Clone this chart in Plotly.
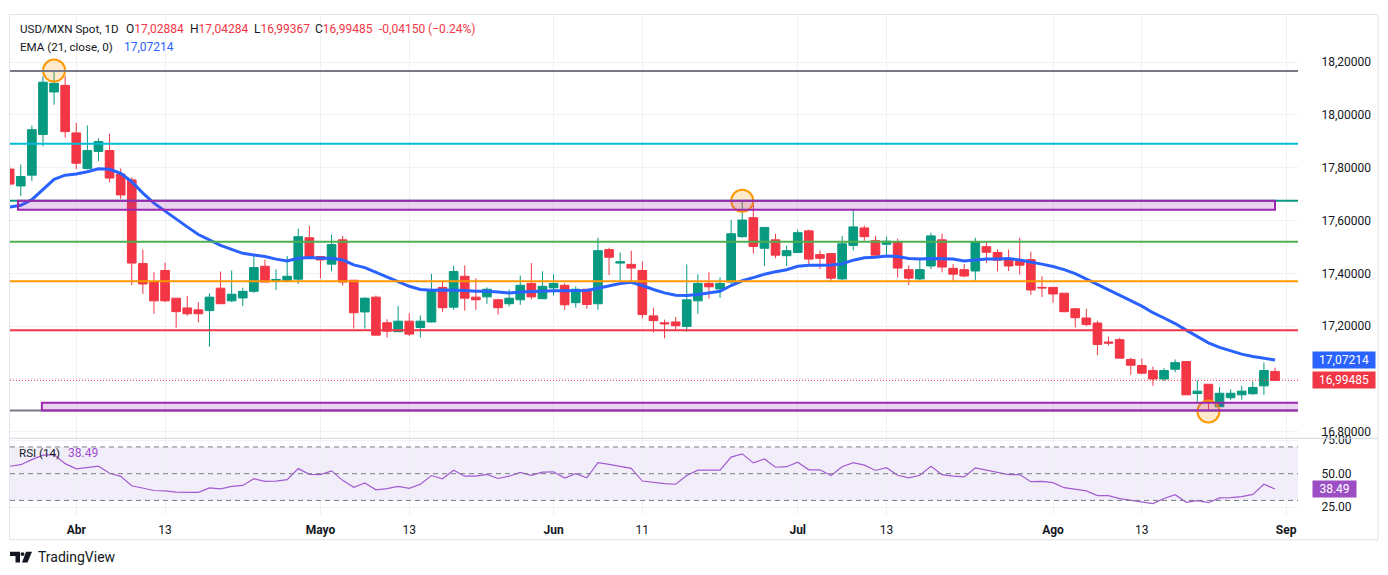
import plotly.graph_objects as go

# ---- data (bar index 0 = first visible daily bar) ----
opens = [17.795, 17.731, 17.772, 17.926, 18.087, 18.112, 17.932, 17.797, 17.862, 17.865,
         17.776, 17.754, 17.437, 17.369, 17.411, 17.306, 17.269, 17.262, 17.259, 17.344,
         17.296, 17.307, 17.332, 17.427, 17.373, 17.373, 17.378, 17.535, 17.464, 17.435,
         17.527, 17.374, 17.254, 17.310, 17.213, 17.179, 17.219, 17.195, 17.216, 17.347,
         17.272, 17.389, 17.310, 17.311, 17.300, 17.285, 17.300, 17.362, 17.304, 17.345,
         17.355, 17.289, 17.340, 17.285, 17.490, 17.439, 17.434, 17.411, 17.239, 17.213,
         17.216, 17.199, 17.296, 17.362, 17.341, 17.367, 17.539, 17.611, 17.495, 17.527,
         17.467, 17.479, 17.561, 17.471, 17.475, 17.379, 17.506, 17.572, 17.524, 17.510,
         17.520, 17.414, 17.379, 17.428, 17.527, 17.419, 17.414, 17.409, 17.501, 17.479,
         17.454, 17.446, 17.452, 17.347, 17.347, 17.325, 17.266, 17.231, 17.212, 17.140,
         17.149, 17.074, 17.051, 17.032, 17.000, 17.037, 17.066, 16.945, 16.980, 16.895,
         16.929, 16.940, 16.944, 16.974, 17.02884]
highs = [17.810, 17.812, 17.960, 18.147, 18.164, 18.147, 17.970, 17.960, 17.912, 17.929,
         17.797, 17.764, 17.490, 17.404, 17.441, 17.306, 17.314, 17.291, 17.325, 17.407,
         17.411, 17.346, 17.466, 17.452, 17.415, 17.466, 17.569, 17.580, 17.464, 17.546,
         17.542, 17.374, 17.310, 17.316, 17.226, 17.276, 17.249, 17.241, 17.398, 17.368,
         17.429, 17.430, 17.381, 17.347, 17.304, 17.339, 17.392, 17.439, 17.408, 17.396,
         17.362, 17.351, 17.340, 17.535, 17.497, 17.479, 17.486, 17.445, 17.270, 17.225,
         17.235, 17.434, 17.396, 17.404, 17.385, 17.602, 17.672, 17.660, 17.574, 17.550,
         17.505, 17.566, 17.565, 17.486, 17.475, 17.542, 17.644, 17.581, 17.542, 17.539,
         17.531, 17.431, 17.460, 17.554, 17.550, 17.435, 17.435, 17.535, 17.519, 17.491,
         17.490, 17.535, 17.482, 17.389, 17.347, 17.325, 17.269, 17.266, 17.220, 17.160,
         17.156, 17.081, 17.077, 17.047, 17.041, 17.074, 17.066, 16.995, 16.980, 16.969,
         16.961, 16.974, 16.991, 17.062, 17.04284]
lows = [17.730, 17.693, 17.750, 17.881, 18.039, 17.914, 17.795, 17.794, 17.825, 17.745,
        17.682, 17.356, 17.322, 17.247, 17.291, 17.194, 17.239, 17.214, 17.122, 17.285,
        17.291, 17.276, 17.326, 17.367, 17.337, 17.366, 17.360, 17.460, 17.381, 17.407,
        17.354, 17.191, 17.191, 17.166, 17.157, 17.179, 17.163, 17.157, 17.214, 17.254,
        17.262, 17.259, 17.262, 17.285, 17.244, 17.275, 17.281, 17.301, 17.304, 17.316,
        17.262, 17.270, 17.266, 17.262, 17.394, 17.370, 17.371, 17.229, 17.176, 17.154,
        17.184, 17.180, 17.247, 17.304, 17.307, 17.360, 17.535, 17.475, 17.428, 17.457,
        17.428, 17.479, 17.435, 17.416, 17.371, 17.375, 17.487, 17.524, 17.459, 17.469,
        17.385, 17.356, 17.370, 17.416, 17.404, 17.372, 17.385, 17.372, 17.439, 17.408,
        17.409, 17.396, 17.319, 17.311, 17.289, 17.252, 17.195, 17.200, 17.090, 17.127,
        17.079, 17.016, 17.019, 16.974, 16.992, 17.026, 16.940, 16.914, 16.884, 16.895,
        16.920, 16.921, 16.940, 16.940, 16.99367]
closes = [17.738, 17.767, 17.944, 18.124, 18.120, 17.937, 17.817, 17.865, 17.899, 17.761,
          17.697, 17.439, 17.360, 17.296, 17.296, 17.255, 17.247, 17.247, 17.310, 17.285,
          17.321, 17.332, 17.422, 17.367, 17.377, 17.389, 17.539, 17.460, 17.451, 17.509,
          17.367, 17.251, 17.306, 17.166, 17.181, 17.219, 17.170, 17.219, 17.337, 17.270,
          17.407, 17.306, 17.300, 17.340, 17.270, 17.306, 17.355, 17.311, 17.351, 17.362,
          17.281, 17.340, 17.282, 17.486, 17.461, 17.444, 17.420, 17.244, 17.221, 17.209,
          17.202, 17.300, 17.362, 17.349, 17.362, 17.550, 17.602, 17.502, 17.574, 17.469,
          17.486, 17.554, 17.454, 17.457, 17.382, 17.512, 17.576, 17.539, 17.469, 17.522,
          17.420, 17.382, 17.414, 17.542, 17.424, 17.397, 17.390, 17.520, 17.480, 17.450,
          17.428, 17.431, 17.337, 17.345, 17.322, 17.255, 17.232, 17.206, 17.131, 17.136,
          17.079, 17.052, 17.022, 17.000, 17.032, 17.062, 16.940, 16.954, 16.914, 16.946,
          16.946, 16.954, 16.968, 17.032, 16.99485]
ema21 = [17.651, 17.658, 17.679, 17.716, 17.756, 17.772, 17.776, 17.785, 17.796, 17.794,
         17.779, 17.747, 17.704, 17.666, 17.635, 17.604, 17.576, 17.547, 17.526, 17.506,
         17.491, 17.476, 17.470, 17.464, 17.454, 17.447, 17.457, 17.460, 17.457, 17.457,
         17.451, 17.432, 17.422, 17.404, 17.385, 17.369, 17.351, 17.339, 17.336, 17.337,
         17.337, 17.335, 17.332, 17.332, 17.329, 17.326, 17.329, 17.331, 17.334, 17.334,
         17.334, 17.335, 17.335, 17.344, 17.354, 17.362, 17.366, 17.354, 17.339, 17.326,
         17.317, 17.316, 17.320, 17.326, 17.332, 17.354, 17.372, 17.384, 17.397, 17.406,
         17.414, 17.427, 17.431, 17.431, 17.432, 17.436, 17.450, 17.459, 17.461, 17.466,
         17.464, 17.456, 17.454, 17.456, 17.456, 17.454, 17.447, 17.451, 17.454, 17.454,
         17.456, 17.451, 17.444, 17.435, 17.426, 17.414, 17.399, 17.379, 17.360, 17.339,
         17.319, 17.297, 17.276, 17.251, 17.231, 17.210, 17.185, 17.160, 17.137, 17.120,
         17.106, 17.094, 17.085, 17.079, 17.07214]
rsi14 = [55.5, 56.7, 60.5, 63.8, 64.3, 57.5, 53.6, 54.4, 55.6, 50.3,
         48.0, 41.0, 39.0, 37.4, 37.1, 36.2, 36.0, 36.0, 39.3, 38.6,
         40.5, 41.2, 46.2, 44.3, 44.5, 45.5, 53.8, 49.5, 49.3, 52.1,
         45.0, 39.8, 43.1, 37.9, 38.8, 40.5, 39.0, 42.1, 48.6, 46.2,
         52.6, 48.1, 48.1, 49.5, 46.4, 48.1, 51.0, 48.8, 51.2, 51.4,
         46.7, 50.0, 46.9, 58.3, 56.9, 55.7, 54.0, 44.5, 43.3, 42.6,
         42.1, 48.6, 52.6, 52.4, 52.6, 62.4, 64.8, 58.1, 61.0, 54.8,
         55.2, 58.6, 52.9, 52.9, 48.6, 55.2, 58.3, 56.4, 52.4, 54.5,
         48.8, 46.9, 48.8, 55.5, 49.3, 48.1, 47.6, 54.3, 52.6, 51.0,
         49.3, 49.3, 44.0, 44.3, 43.3, 39.5, 38.3, 37.1, 33.6, 33.6,
         31.4, 30.2, 29.0, 27.6, 31.4, 34.3, 28.6, 29.8, 28.3, 31.9,
         32.1, 32.9, 34.5, 42.1, 38.49]

tick_pos = [6, 14, 28, 36, 49, 57, 71, 79, 94, 102, 115]
tick_labels = ["<b>Abr</b>", "13", "<b>Mayo</b>", "13", "<b>Jun</b>", "11",
               "<b>Jul</b>", "13", "<b>Ago</b>", "13", "<b>Sep</b>"]
price_ticks = [16.8, 17.0, 17.2, 17.4, 17.6, 17.8, 18.0, 18.2]
rsi_ticks = [25, 50, 75]
rsi_levels = [70, 50, 30]

level_prices = [18.166, 17.891, 17.675, 17.520, 17.370, 17.185, 16.881]
level_colors = ["#787B86", "#00BCD4", "#089981", "#4CAF50", "#FF9800", "#F23645", "#787B86"]

zone_x0 = [0.75, 2.9]
zone_x1 = [114.0, 116.5]
zone_y0 = [17.641, 16.881]
zone_y1 = [17.675, 16.910]

circle_x = [4, 66, 108]
circle_y = [18.168, 17.675, 16.877]

header_change = "-0,04150 (\u22120.24%)"

UP = "#089981"
DOWN = "#F23645"
FONT = "Roboto"


def fmt(v):
    return f"{v:.5f}".replace(".", ",")


def px(x):
    return (x - 10) / 1288


def py(y):
    return (515 - y) / 505


bars = list(range(len(closes)))

fig = go.Figure()

fig.add_trace(go.Candlestick(
    x=bars, open=opens, high=highs, low=lows, close=closes,
    increasing=dict(line=dict(color=UP, width=1), fillcolor=UP),
    decreasing=dict(line=dict(color=DOWN, width=1), fillcolor=DOWN),
    xaxis="x", yaxis="y", showlegend=False, hoverinfo="skip"))

fig.add_trace(go.Scatter(x=bars, y=ema21, mode="lines",
                         line=dict(color="#2962FF", width=3),
                         xaxis="x", yaxis="y", showlegend=False, hoverinfo="skip"))

fig.add_trace(go.Scatter(x=bars, y=rsi14, mode="lines",
                         line=dict(color="#A35BD0", width=1.2),
                         xaxis="x2", yaxis="y2", showlegend=False, hoverinfo="skip"))

shapes = []
# horizontal levels
for lvl, col in zip(level_prices, level_colors):
    shapes.append(dict(type="line", xref="x domain", yref="y", x0=0, x1=1, y0=lvl, y1=lvl,
                       line=dict(color=col, width=2), layer="above"))
# zones
for a, b, c, d in zip(zone_x0, zone_x1, zone_y0, zone_y1):
    shapes.append(dict(type="rect", xref="x", yref="y", x0=a, x1=b, y0=c, y1=d,
                       fillcolor="rgba(156,39,176,0.2)", line=dict(color="#9C27B0", width=2),
                       layer="above"))
# last price dotted line
shapes.append(dict(type="line", xref="x domain", yref="y", x0=0, x1=1,
                   y0=closes[-1], y1=closes[-1],
                   line=dict(color=DOWN, width=1, dash="1px,2px"), layer="above"))
# RSI band and levels
shapes.append(dict(type="rect", xref="x2 domain", yref="y2", x0=0, x1=1, y0=30, y1=70,
                   fillcolor="rgba(126,87,194,0.1)", line=dict(width=0), layer="below"))
for lvl in rsi_levels:
    shapes.append(dict(type="line", xref="x2 domain", yref="y2", x0=0, x1=1, y0=lvl, y1=lvl,
                       line=dict(color="#787B86", width=1, dash="5px,4px"), layer="above"))
# pane separator and frame
shapes.append(dict(type="line", xref="paper", yref="paper", x0=px(10), x1=px(1378),
                   y0=py(437.5), y1=py(437.5), line=dict(color="#d1d4dc", width=1)))
shapes.append(dict(type="rect", xref="paper", yref="paper", x0=px(9.5), x1=px(1378),
                   y0=py(540), y1=py(9.5), line=dict(color="#e0e3eb", width=1)))
# TradingView mark
shapes.append(dict(type="path", xref="paper", yref="paper",
                   path=f"M {px(10)},{py(552)} L {px(20)},{py(552)} L {px(20)},{py(563)} "
                        f"L {px(15.5)},{py(563)} L {px(15.5)},{py(556.5)} L {px(10)},{py(556.5)} Z",
                   fillcolor="#131722", line=dict(width=0)))
shapes.append(dict(type="circle", xref="paper", yref="paper", x0=px(20.5), x1=px(24.5),
                   y0=py(556.5), y1=py(552.5), fillcolor="#131722", line=dict(width=0)))
shapes.append(dict(type="path", xref="paper", yref="paper",
                   path=f"M {px(26)},{py(552)} L {px(32)},{py(552)} L {px(27.5)},{py(563)} "
                        f"L {px(22)},{py(563)} Z",
                   fillcolor="#131722", line=dict(width=0)))

fig.add_trace(go.Scatter(x=circle_x, y=circle_y, mode="markers",
                         marker=dict(size=22, color="rgba(255,152,0,0.2)",
                                     line=dict(color="#FF9800", width=2)),
                         xaxis="x", yaxis="y", showlegend=False, hoverinfo="skip"))

ann = []


def text(t, x, y, size=12, color="#131722"):
    ann.append(dict(text=t, xref="paper", yref="paper", x=px(x), y=py(y),
                    xanchor="left", yanchor="middle", showarrow=False,
                    font=dict(family=FONT, size=size, color=color)))


def red(v):
    return f"<span style='color:{DOWN}'>{v}</span>"


text("USD/MXN Spot, 1D", 18, 24, size=11.6)
text("O" + red(fmt(opens[-1])), 124, 24)
text("H" + red(fmt(highs[-1])), 188, 24)
text("L" + red(fmt(lows[-1])), 252, 24)
text("C" + red(fmt(closes[-1])), 313, 24)
text(red(header_change), 377, 24)
text("EMA (21, close, 0)", 18, 42, size=11.6)
text(fmt(ema21[-1]), 122, 42, color="#2962FF")
text("RSI (14)", 17, 452, size=11.6)
text(f"{rsi14[-1]:.2f}", 66, 452, color="#9C4FD0")
text("TradingView", 36, 557, size=14)

# price-scale labels
for val, col in [(ema21[-1], "#2962FF"), (closes[-1], DOWN)]:
    ann.append(dict(text=fmt(val), xref="paper", yref="y", x=px(1312), y=val,
                    xanchor="left", yanchor="middle", showarrow=False, bgcolor=col,
                    width=60, height=14, borderpad=1,
                    font=dict(family=FONT, size=12, color="white")))
ann.append(dict(text=f"{rsi14[-1]:.2f}", xref="paper", yref="y2", x=px(1312), y=rsi14[-1],
                xanchor="left", yanchor="middle", showarrow=False, bgcolor="#9C4FC4",
                width=41, height=14, borderpad=1,
                font=dict(family=FONT, size=12, color="white")))

axis_font = dict(family=FONT, size=12, color="#131722")
grid = "#eff1f4"

fig.update_layout(
    width=1388, height=575,
    margin=dict(l=10, r=90, t=10, b=60),
    paper_bgcolor="white", plot_bgcolor="white",
    showlegend=False, boxgap=0.22, boxgroupgap=0,
    shapes=shapes, annotations=ann,
    xaxis=dict(domain=[0, 1], anchor="y", range=[0.03, 116.07], tickvals=tick_pos,
               showticklabels=False, showgrid=True, gridcolor=grid, zeroline=False,
               rangeslider=dict(visible=False), fixedrange=True),
    yaxis=dict(domain=[(515 - 437) / 505, 1], anchor="x", side="right",
               range=[16.7774, 18.3785], tickvals=price_ticks,
               ticktext=[fmt(v) if abs(v - 17.0) > 1e-9 else "" for v in price_ticks],
               showgrid=True, gridcolor=grid, zeroline=False, ticks="outside", ticklen=20,
               tickcolor="rgba(0,0,0,0)", tickfont=axis_font),
    xaxis2=dict(domain=[0, 1], anchor="y2", matches="x", range=[0.03, 116.07],
                tickvals=tick_pos, ticktext=tick_labels, showgrid=True, gridcolor=grid,
                zeroline=False, ticks="outside", ticklen=4, tickcolor="rgba(0,0,0,0)",
                tickfont=axis_font),
    yaxis2=dict(domain=[0, (515 - 438) / 505], anchor="x2", side="right",
                range=[19.1, 76.1], tickvals=rsi_ticks,
                ticktext=[f"{v:.2f}" for v in rsi_ticks],
                showgrid=True, gridcolor=grid, zeroline=False, ticks="outside", ticklen=20,
                tickcolor="rgba(0,0,0,0)", tickfont=axis_font),
)

# drop the default 8px page margin so the figure sits at the window's corner
fig.write_html("out.html", config={"displayModeBar": False},
               post_script="document.body.style.margin = '0px';")
